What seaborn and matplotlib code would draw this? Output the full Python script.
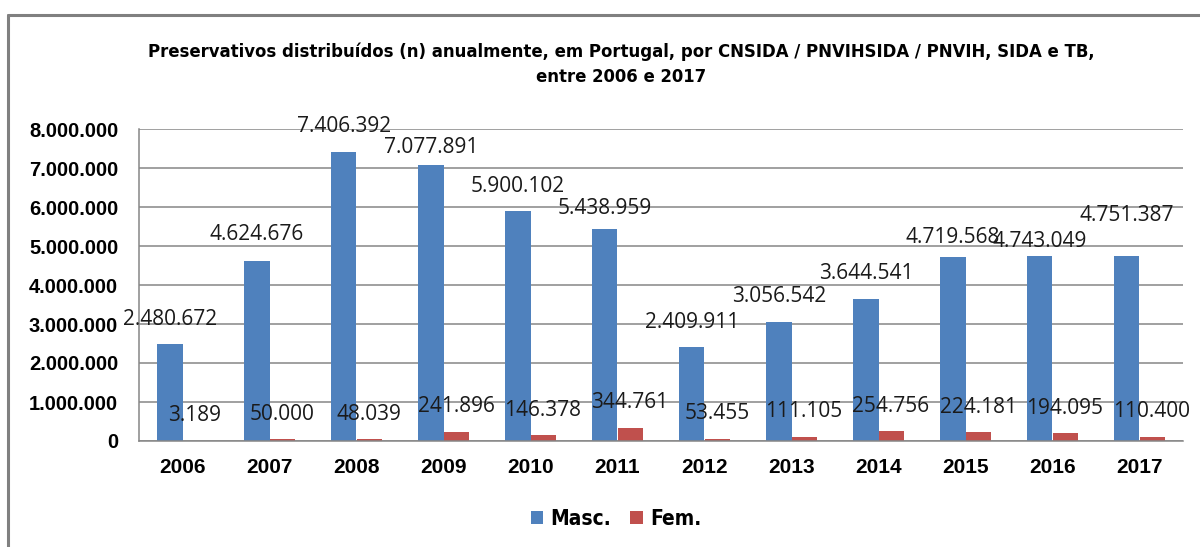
import matplotlib
matplotlib.use("Agg")
import matplotlib.pyplot as plt
import seaborn as sns
import pandas as pd
from matplotlib import font_manager as fm
from matplotlib.lines import Line2D
from matplotlib.patches import Patch

# ---------------- data ----------------
years = ["2006", "2007", "2008", "2009", "2010", "2011",
         "2012", "2013", "2014", "2015", "2016", "2017"]
masc = [2480672, 4624676, 7406392, 7077891, 5900102, 5438959,
        2409911, 3056542, 3644541, 4719568, 4743049, 4751387]
fem = [3189, 50000, 48039, 241896, 146378, 344761,
       53455, 111105, 254756, 224181, 194095, 110400]
series = ["Masc.", "Fem."]
colors = ["#4F81BD", "#C0504D"]
y_ticks = [0, 1000000, 2000000, 3000000, 4000000, 5000000, 6000000, 7000000, 8000000]
title_lines = ["Preservativos distribuídos (n) anualmente, em Portugal, por CNSIDA / PNVIHSIDA / PNVIH, SIDA e TB,",
               "entre 2006 e 2017"]

# label offsets above bar top (pixels), as placed in the original
masc_off = [25, 26, 26, 17, 24, 20, 25, 25, 25, 19, 15, 40]
fem_off = [25] * 12


def fmt(v):
    return f"{v:,}".replace(",", ".")


def has_font(name):
    try:
        fm.findfont(fm.FontProperties(family=name), fallback_to_default=False)
        return True
    except Exception:
        return False


sns.set_style("white")
plt.rcParams["font.family"] = ["Liberation Sans", "DejaVu Sans"]
plt.rcParams["text.color"] = "#000000"
plt.rcParams["axes.labelcolor"] = "#000000"
plt.rcParams["xtick.color"] = "#000000"
plt.rcParams["ytick.color"] = "#000000"
label_font = "Open Sans" if has_font("Open Sans") else "DejaVu Sans"

# condensed bold font for title / legend
cond_path = None
for fam in ["Liberation Sans Narrow", "DejaVu Sans"]:
    try:
        p = fm.findfont(fm.FontProperties(family=fam, stretch="condensed", weight="bold"),
                        fallback_to_default=False)
        if "narrow" in p.lower() or "condensed" in p.lower():
            cond_path = p
            break
    except Exception:
        pass


def cond_props(size):
    if cond_path:
        return fm.FontProperties(fname=cond_path, size=size)
    return fm.FontProperties(family="Liberation Sans", weight="bold", size=size)


df = pd.DataFrame({
    "Ano": years + years,
    "Série": [series[0]] * len(years) + [series[1]] * len(years),
    "Valor": masc + fem,
})

W, H = 1200, 547
fig = plt.figure(figsize=(W / 100, H / 100), dpi=100)
ax = fig.add_axes([139 / W, 1 - 441 / H, (1183 - 139) / W, (441 - 129) / H])

sns.barplot(data=df, x="Ano", y="Valor", hue="Série", hue_order=series,
            palette=colors, width=0.575, saturation=1, errorbar=None,
            linewidth=0, ax=ax, legend=False, zorder=2)

gray = "#868686"
ax.set_xlim(-0.5, len(years) - 0.5)
ax.set_ylim(0, 8000000)
ax.set_yticks(y_ticks)
ax.set_yticklabels([fmt(v) for v in y_ticks], fontsize=14.5, fontweight="bold")
ax.yaxis.grid(True, color=gray, lw=1.1, zorder=0)
ax.set_axisbelow(True)
for s in ["top", "right"]:
    ax.spines[s].set_visible(False)
for s in ["left", "bottom"]:
    ax.spines[s].set_color(gray)
    ax.spines[s].set_linewidth(1.1)
ax.set_xlabel("")
ax.set_ylabel("")

ax.set_xticks(range(len(years)))
ax.set_xticklabels(years, fontsize=15, fontweight="bold")
ax.set_xticks([i - 0.5 for i in range(len(years) + 1)], minor=True)
ax.tick_params(axis="x", which="major", length=0, pad=12, labelcolor="#000000")
ax.tick_params(axis="x", which="minor", length=5, width=1.1, color=gray)
ax.tick_params(axis="y", which="major", length=6, width=1.1, color=gray, pad=9,
               labelcolor="#000000")

# data labels
for cont, offs, vals in zip(ax.containers, [masc_off, fem_off], [masc, fem]):
    for bar, off, v in zip(cont, offs, vals):
        ax.annotate(fmt(v), (bar.get_x() + bar.get_width() / 2, bar.get_height()),
                    xytext=(0, off * 0.72), textcoords="offset points",
                    ha="center", va="center", fontsize=15, family=label_font,
                    color="#1a1a1a", zorder=5)

# legend
handles = [Patch(facecolor=c, edgecolor="none", label=l) for c, l in zip(colors, series)]
leg = fig.legend(handles=handles, loc="center", bbox_to_anchor=(616 / W, 1 - 519 / H),
                 ncol=2, frameon=False, handlelength=0.6, handleheight=0.6,
                 handletextpad=0.35, columnspacing=0.9,
                 prop=cond_props(15 if cond_path else 13))
for t in leg.get_texts():
    t.set_color("#000000")

# title
t1 = fig.text(621 / W, 1 - 52 / H, title_lines[0], ha="center", va="center",
              fontproperties=cond_props(15), color="#000000")
t2 = fig.text(621 / W, 1 - 77 / H, title_lines[1], ha="center", va="center",
              fontproperties=cond_props(15), color="#000000")
fig.canvas.draw()
w = t1.get_window_extent(fig.canvas.get_renderer()).width
fs = 15 * 947 / w
t1.set_fontsize(fs)
t2.set_fontsize(fs)

# chart frame (cropped border)
fig.add_artist(Line2D([7.5 / W, 1.0], [1 - 14.5 / H] * 2, transform=fig.transFigure,
                      color="#808080", lw=2.2))
fig.add_artist(Line2D([7.5 / W] * 2, [0, 1 - 14.5 / H], transform=fig.transFigure,
                      color="#808080", lw=2.2))

fig.savefig("out.png", dpi=100)
